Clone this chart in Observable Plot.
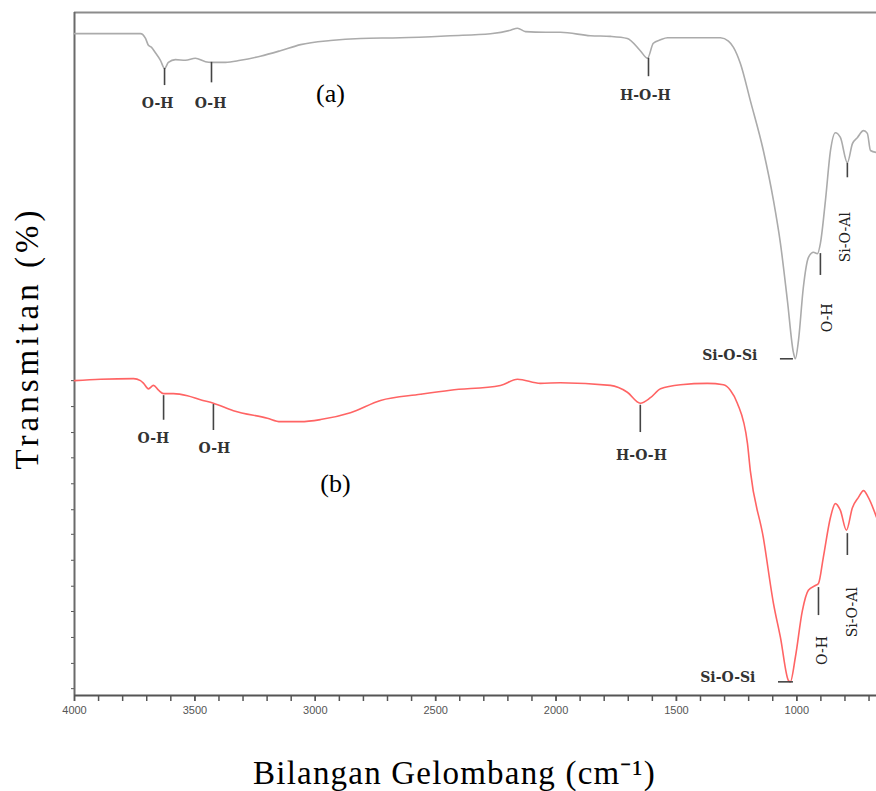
<!DOCTYPE html>
<html><head><meta charset="utf-8">
<script src="https://cdn.jsdelivr.net/npm/d3@7"></script>
<script src="https://cdn.jsdelivr.net/npm/@observablehq/plot@0.6"></script>
<style>body{margin:0;background:#fff;} #chart svg{display:block;}</style>
</head><body><div id="chart"></div>
<script>
// Spectrum (a) – grey
const wnA = [4000,3726,3705,3693,3680,3664,3643,3626,3610,3581,3539,3498,3456,3431,3373,3311,3228,3145,3061,2937,2812,2646,2439,2272,2189,2160,2127,2044,1982,1857,1774,1704,1650,1620,1596,1566,1537,1442,1317,1284,1263,1234,1193,1139,1097,1068,1039,1014,1006,993,973,952,931,914,902,881,860,840,819,790,769,748,723,707,694,669];
const tA  = [96.9,96.9,96.2,95.2,94.9,94.1,93.0,91.8,92.7,93.1,93.0,93.3,92.8,92.7,92.7,93.0,93.6,94.4,95.3,95.9,96.2,96.3,96.6,96.9,97.4,97.7,97.2,97.1,97.1,96.6,96.5,96.2,94.4,93.3,95.5,96.0,96.3,96.3,96.3,95.8,94.9,92.5,87.1,79.8,72.5,66.2,57.8,50.2,49.3,52.0,59.7,64.1,64.9,64.7,66.2,72.5,79.8,82.4,81.7,78.0,80.8,81.7,82.7,82.3,79.8,79.5];
// Spectrum (b) – red
const wnB = [4000,3892,3755,3726,3713,3693,3672,3651,3630,3589,3531,3477,3423,3340,3199,3145,3061,2978,2854,2729,2563,2439,2231,2160,2065,1982,1774,1704,1650,1608,1566,1483,1371,1305,1276,1247,1205,1193,1139,1097,1068,1035,1027,1006,977,952,923,910,890,860,840,819,794,769,744,723,703,669];
const tB  = [46.1,46.3,46.4,46.1,45.7,44.9,45.4,44.7,44.2,44.2,43.9,43.3,42.8,41.7,40.6,40.1,40.1,40.4,41.4,43.2,44.1,44.7,45.4,46.3,45.7,45.8,45.4,44.4,42.8,43.6,44.9,45.5,45.7,45.5,44.7,42.8,36.9,32.9,23.1,13.5,8.5,2.2,2.0,5.6,12.4,15.4,16.1,16.4,20.2,26.1,28.1,27.1,24.2,27.5,29.0,30.0,29.0,26.1];

// Peak marker ticks (vertical)
const markWn = [3626,3431,1616,902,790, 3630,3423,1650,910,790];
const markT1 = [91.8,92.7,93.3,64.7,77.9, 43.9,42.6,42.5,15.8,23.7];
const markT2 = [89.3,89.7,90.6,61.5,75.8, 40.3,38.8,38.5,11.7,20.5];
// Peak marker ticks (horizontal, Si-O-Si)
const hMarkWn1 = [1068,1076];
const hMarkWn2 = [1014,1014];
const hMarkT   = [49.3,2.0];

// Labels (horizontal, centred)
const labText = ["O-H","O-H","H-O-H","O-H","O-H","H-O-H"];
const labWn   = [3655,3435,1629,3672,3419,1645];
const labT    = [86.7,86.7,87.8,37.6,36.2,35.1];
// Labels right-aligned
const labEText = ["Si-O-Si","Si-O-Si"];
const labEWn   = [1164,1172];
const labET    = [49.8,2.6];
// Rotated labels
const labRText = ["O-H","Si-O-Al","O-H","Si-O-Al"];
const labRWn   = [873,798,894,769];
const labRT    = [55.3,67.1,6.6,12.2];
// Series names
const serText = ["(a)","(b)"];
const serWn   = [2937,2916];
const serT    = [88.1,31.0];

const majorTicks = [4000,3500,3000,2500,2000,1500,1000];
const minorTicks = d3.range(700,4001,100);
const yTicks = [46.1,42.3,38.5,34.8,31.0,27.2,23.6,19.8,16.0,12.3,8.5,4.7,1.0];

const yTitle = "Transmitan (%)";
const xTitle = "Bilangan Gelombang (cm⁻¹)";

const dataA = wnA.map((w,i)=>({wn:w,t:tA[i]}));
const dataB = wnB.map((w,i)=>({wn:w,t:tB[i]}));
const marksV = markWn.map((w,i)=>({wn:w,t1:markT1[i],t2:markT2[i]}));
const marksH = hMarkT.map((t,i)=>({t, wn1:hMarkWn1[i], wn2:hMarkWn2[i]}));
const labs = labText.map((s,i)=>({s,wn:labWn[i],t:labT[i]}));
const labsE = labEText.map((s,i)=>({s,wn:labEWn[i],t:labET[i]}));
const labsR = labRText.map((s,i)=>({s,wn:labRWn[i],t:labRT[i]}));
const sers = serText.map((s,i)=>({s,wn:serWn[i],t:serT[i]}));

const labFont = {fontFamily:"DejaVu Serif", fontWeight:"bold", fontSize:14, fill:"#333"};

const chart = Plot.plot({
  width: 876, height: 791,
  marginLeft: 74, marginRight: 0, marginTop: 12, marginBottom: 96,
  x: {domain: [4000, 669], axis: null},
  y: {domain: [0, 100], axis: null},
  style: {background: "white", overflow: "visible"},
  marks: [
    Plot.ruleY([100], {stroke: "#8c8c8c", strokeWidth: 2}),
    Plot.axisX({ticks: minorTicks, tickSize: 6, tickFormat: () => "", color: "#555", strokeWidth: 1.5, label: null}),
    Plot.axisX({ticks: majorTicks, tickSize: 6, tickPadding: 5, fontSize: 11, color: "#555", strokeWidth: 1.5, tickFormat: d => String(d), label: null, fontFamily: "Liberation Sans"}),
    Plot.axisY({ticks: yTicks, tickSize: 3, tickFormat: () => "", color: "#555", label: null}),
    Plot.ruleX([4000], {stroke: "#6a6a6a", strokeWidth: 2}),
    Plot.ruleY([0], {stroke: "#555", strokeWidth: 2}),
    Plot.line(dataA, {x: "wn", y: "t", stroke: "#ababab", strokeWidth: 1.6, curve: "monotone-x"}),
    Plot.line(dataB, {x: "wn", y: "t", stroke: "#ff6464", strokeWidth: 1.6, curve: "monotone-x"}),
    Plot.ruleX(marksV, {x: "wn", y1: "t1", y2: "t2", stroke: "#444", strokeWidth: 1.6}),
    Plot.ruleY(marksH, {y: "t", x1: "wn1", x2: "wn2", stroke: "#444", strokeWidth: 1.6}),
    Plot.text(labs, {x: "wn", y: "t", text: "s", textAnchor: "middle", lineAnchor: "middle", ...labFont}),
    Plot.text(labsE, {x: "wn", y: "t", text: "s", textAnchor: "end", lineAnchor: "middle", ...labFont}),
    Plot.text(labsR, {x: "wn", y: "t", text: "s", rotate: -90, textAnchor: "middle", lineAnchor: "middle", ...labFont, fontWeight: "normal", fill: "#222"}),
    Plot.text(sers, {x: "wn", y: "t", text: "s", textAnchor: "middle", lineAnchor: "middle", fontFamily: "Liberation Serif", fontSize: 26, fill: "#000"}),
    Plot.text([yTitle], {frameAnchor: "left", dx: -37, dy: -16, rotate: -90, textAnchor: "middle", lineAnchor: "bottom", fontFamily: "Liberation Serif", fontSize: 33, fill: "#000"}),
    Plot.text([xTitle], {frameAnchor: "bottom", dx: -21, dy: 88, textAnchor: "middle", lineAnchor: "bottom", fontFamily: "Liberation Serif", fontSize: 33, fill: "#000"})
  ]
});
d3.select(chart).selectAll("text").each(function() {
  const t = this.textContent;
  if (t === yTitle) d3.select(this).attr("letter-spacing", "4px");
  if (t === xTitle) d3.select(this).attr("letter-spacing", "1.2px");
});
document.getElementById("chart").appendChild(chart);
</script>
</body></html>
